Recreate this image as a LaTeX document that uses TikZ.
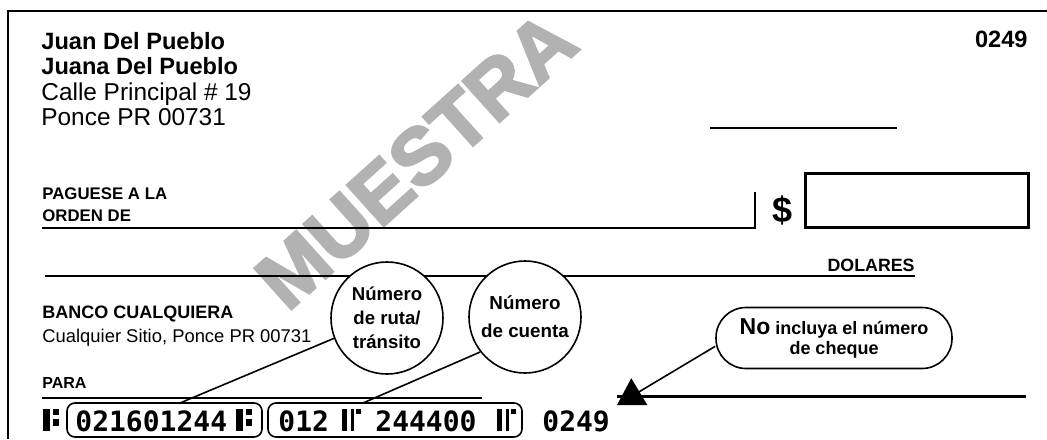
\documentclass[tikz,border=0pt]{standalone}
\usepackage{fontspec}
\setmainfont{Liberation Sans}
\newfontfamily\micr{DejaVu Sans Mono}
\newfontfamily\markfont[FakeBold=3]{Liberation Sans}
\usetikzlibrary{positioning,arrows.meta,calc}

\begin{document}
\begin{tikzpicture}[
  x=0.5pt, y=-0.5pt,
  nombre/.style={anchor=base west, inner sep=0pt, font=\bfseries\fontsize{11.8}{14}\selectfont},
  dato/.style={anchor=base west, inner sep=0pt, font=\fontsize{12.2}{14}\selectfont},
  rotulo/.style={anchor=base west, inner sep=0pt, font=\bfseries\fontsize{8.4}{10}\selectfont},
  banco/.style={anchor=base west, inner sep=0pt, font=\fontsize{9.2}{11}\selectfont},
  bubble/.style={draw, circle, fill=white, line width=0.8pt, minimum size=56pt, inner sep=0pt, align=center},
  micrbox/.style={draw, rounded corners=4pt, line width=0.8pt, minimum height=17pt, inner sep=0pt},
  micrnum/.style={anchor=base west, inner sep=0pt, font=\micr\bfseries\fontsize{14}{14}\selectfont},
  guia/.style={line width=0.8pt},
  raya/.style={line width=1pt}
]
\useasboundingbox (0,0) rectangle (1047,439);

% ================= WATERMARK =================
\node[rotate=42, text=black!30, font=\markfont\bfseries\fontsize{40}{40}\selectfont] (marca) at (416,160) {MUESTRA};

% ================= CHECK FRAME =================
\draw[raya] (1047,11) -- (8,11) -- (8,439);

% ================= HOLDERS =================
\node[nombre] (titular1) at (41,49) {Juan Del Pueblo};
\node[nombre] (titular2) at (41,74) {Juana Del Pueblo};
\node[dato] (calle) at (41,100) {Calle Principal \# 19};
\node[dato] (pueblo) at (41,125) {Ponce PR 00731};
\node[nombre, anchor=base east] (numcheque) at (1028,47) {0249};

% date line
\coordinate (fechaA) at (710,128);
\coordinate (fechaB) at (897,128);
\draw[line width=0.6pt] (fechaA) -- (fechaB);

% ================= PAYEE =================
\node[rotulo] (paguese) at (42,199) {PAGUESE A LA};
\node[rotulo] (orden) at (42,221) {ORDEN DE};
\coordinate (pagoA) at (42,228);
\coordinate (pagoB) at (755,228);
\coordinate (pagoC) at (755,192);
\draw[raya] (pagoA) -- (pagoB) -- (pagoC);
\node[anchor=base, inner sep=0pt, font=\bfseries\fontsize{18}{18}\selectfont] (dolar) at (782,222) {\$};
\node[draw, line width=1.5pt, minimum width=111.5pt, minimum height=27pt, inner sep=0pt] (monto) at (916.5,200) {};

% written amount
\coordinate (sumaA) at (45,276);
\coordinate (sumaB) at (915,276);
\draw[raya] (sumaA) -- (sumaB);
\node[rotulo, anchor=base east, font=\bfseries\fontsize{8.9}{10}\selectfont] (dolares) at (915,271) {DOLARES};

% ================= BANK =================
\node[rotulo, font=\bfseries\fontsize{9}{11}\selectfont] (bancoN) at (42,318) {BANCO CUALQUIERA};
\node[banco] (bancoD) at (42,342) {Cualquier Sitio, Ponce PR 00731};
\node[rotulo, font=\bfseries\fontsize{8}{10}\selectfont] (para) at (42,388) {PARA};
\coordinate (paraA) at (42,398);
\coordinate (paraB) at (482,398);
\draw[guia] (paraA) -- (paraB);
\coordinate (firmaA) at (617,396);
\coordinate (firmaB) at (1026,396);
\draw[line width=1.5pt] (firmaA) -- (firmaB);

% ================= MICR LINE =================
\node[micrbox, minimum width=97.5pt] (rutabox) at (164.5,420) {};
\node[micrbox, minimum width=127pt] (cuentabox) at (395,420) {};
\foreach \sx in {43,236} {
  \fill (\sx,409) rectangle ++(7,22);
  \fill (\sx+10,409) rectangle ++(6,6);
  \fill (\sx+10,419) rectangle ++(6,7);
}
\foreach \sx in {342,497} {
  \fill (\sx,409) rectangle ++(5,22);
  \fill (\sx+9,409) rectangle ++(2.5,22);
  \fill (\sx+14,409) rectangle ++(5,5);
}
\node[micrnum] (ruta) at (75,431) {021601244};
\node[micrnum] (cuenta1) at (278,431) {012};
\node[micrnum] (cuenta2) at (375,431) {244400};
\node[micrnum] (cheque) at (542,431) {0249};

% ================= CALLOUTS =================
\node[bubble, font=\bfseries\fontsize{9.3}{12}\selectfont] (rutaC) at (387,318) {Número\\de ruta/\\tránsito};
\node[bubble, font=\bfseries\fontsize{9.4}{14}\selectfont] (cuentaC) at (525,317) {Número\\de cuenta};
\node[draw, fill=white, line width=0.8pt, rounded corners=15pt, minimum width=118pt, minimum height=30.5pt, inner sep=0pt, align=center, font=\bfseries\fontsize{9}{10}\selectfont] (noinc) at (834,338) {{\fontsize{11.5}{10}\selectfont No} incluya el número\\de cheque};

\coordinate (rutaT) at (180,403);
\coordinate (cuentaT) at (363,403);
\coordinate (punta) at (617,405);
\draw[guia] (rutaC.201) -- (rutaT);
\draw[guia] (cuentaC.218) -- (cuentaT);
\draw[guia, -{Triangle[length=13pt, width=15.5pt]}] (noinc.184) -- (punta);

\end{tikzpicture}
\end{document}
